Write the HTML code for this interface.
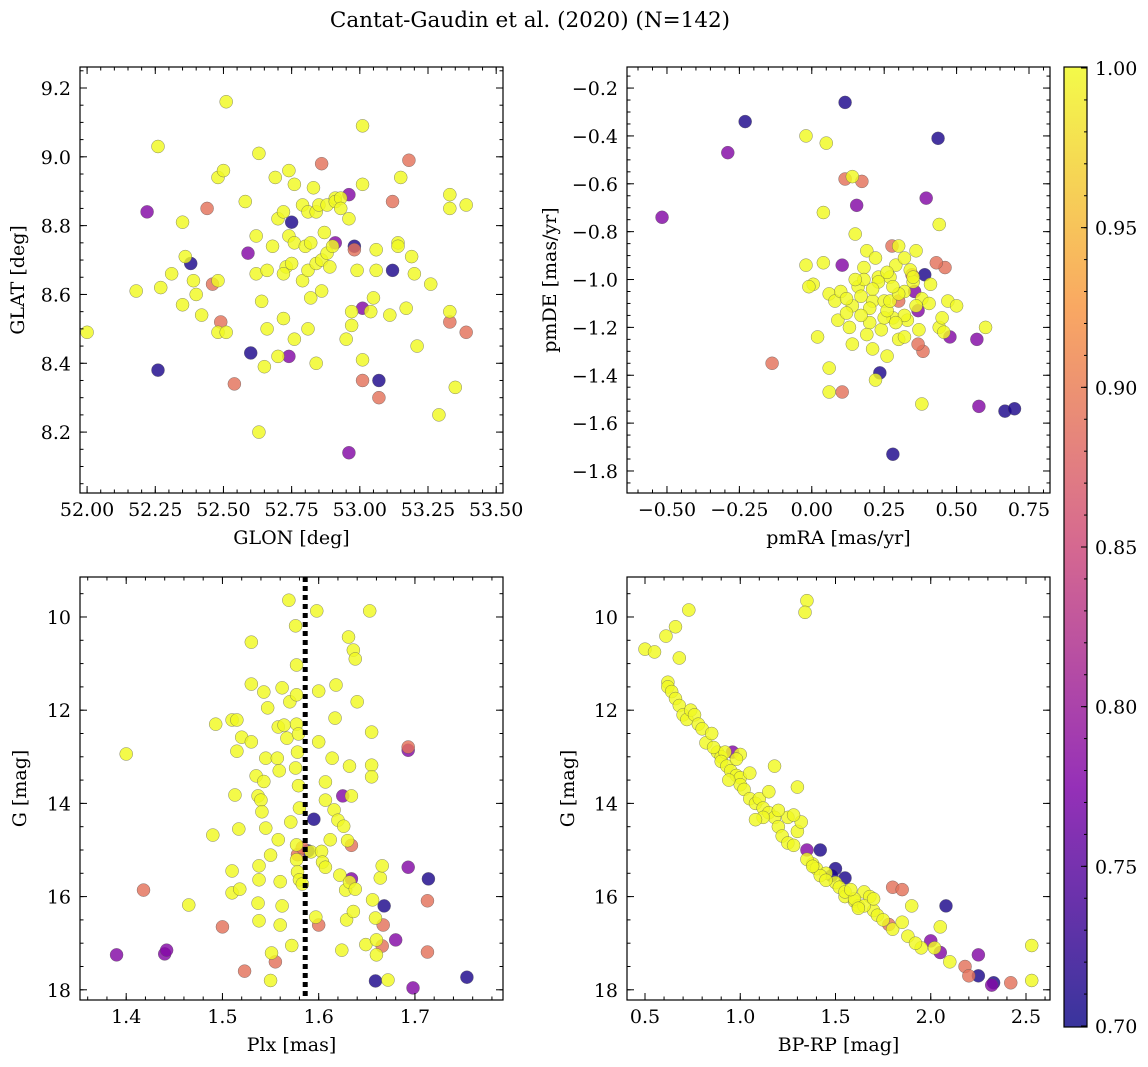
<!DOCTYPE html>
<html><head><meta charset="utf-8">
<style>
body{margin:0;background:#fff;}
svg{display:block;font-family:"DejaVu Serif","Liberation Serif",serif;}
</style></head>
<body>
<svg id="fig" width="1148" height="1067" viewBox="0 0 1148 1067" xmlns="http://www.w3.org/2000/svg">
<text x="530" y="27" font-size="21.5" text-anchor="middle">Cantat-Gaudin et al. (2020) (N=142)</text>
</svg>
<script>
// ---- Panel 1: GLON / GLAT ----
const p1x=[52.26,52.38,52.60,52.75,52.98,53.07,53.12, 52.22,52.59,52.74,52.91,52.96,52.96,53.01, 52.44,52.46,52.49,52.54,52.86,52.98,53.01,53.07,53.12,53.18,53.33,53.39,
52.0,52.26,52.18,52.27,52.31,52.35,52.36,52.35,52.39,52.40,52.42,52.48,52.50,52.51,52.48,52.48,52.51,52.58,52.62,52.62,52.63,52.64,52.63,52.65,52.66,52.66,52.68,52.70,52.69,52.70,52.72,52.72,52.73,52.74,52.74,52.76,52.76,52.75,52.76,52.79,52.79,52.80,52.81,52.81,52.81,52.82,52.83,52.84,52.82,52.84,52.85,52.84,52.86,52.86,52.87,52.88,52.88,52.89,52.91,52.90,52.91,52.93,52.93,52.95,52.96,52.97,52.97,52.99,53.01,53.01,53.01,53.04,53.05,53.06,53.06,53.11,53.14,53.14,53.15,53.17,53.19,53.20,53.21,53.26,53.29,53.33,53.33,53.33,53.35,53.39,52.72];
const p1y=[8.38,8.69,8.43,8.81,8.74,8.35,8.67, 8.84,8.72,8.42,8.75,8.89,8.14,8.56, 8.85,8.63,8.52,8.34,8.98,8.73,8.35,8.30,8.87,8.99,8.52,8.49,
8.49,9.03,8.61,8.62,8.66,8.81,8.71,8.57,8.64,8.60,8.54,8.94,8.96,9.16,8.64,8.49,8.49,8.87,8.77,8.66,9.01,8.58,8.20,8.39,8.50,8.67,8.74,8.82,8.94,8.42,8.84,8.53,8.68,8.96,8.77,8.47,8.92,8.69,8.75,8.64,8.86,8.74,8.84,8.50,8.67,8.75,8.91,8.69,8.59,8.84,8.86,8.40,8.70,8.61,8.78,8.72,8.86,8.68,8.88,8.74,8.87,8.88,8.85,8.47,8.82,8.55,8.51,8.67,9.09,8.92,8.41,8.55,8.59,8.67,8.73,8.54,8.75,8.74,8.94,8.56,8.71,8.66,8.45,8.63,8.25,8.89,8.85,8.55,8.33,8.86,8.66];
const p1c=[0.71,0.71,0.71,0.71,0.71,0.71,0.71, 0.78,0.78,0.78,0.78,0.78,0.78,0.78, 0.89,0.89,0.89,0.89,0.89,0.89,0.89,0.89,0.89,0.89,0.89,0.89];
// ---- Panel 2: pmRA / pmDE ----
const p2x=[-0.23,0.115,0.436,0.39,0.235,0.28,0.667,0.70, -0.517,-0.29,0.105,0.155,0.395,0.355,0.477,0.57,0.577,0.367, 0.115,0.173,-0.137,0.105,0.277,0.346,0.46,0.384,0.367,0.30,0.43,
-0.02,0.05,0.04,0.14,0.44,-0.02,0.005,-0.01,0.04,0.06,0.02,0.06,0.06,0.09,0.15,0.16,0.14,0.13,0.14,0.18,0.19,0.20,0.21,0.21,0.22,0.22,0.23,0.24,0.25,0.26,0.27,0.28,0.29,0.30,0.32,0.32,0.33,0.35,0.36,0.37,0.38,0.38,0.405,0.41,0.44,0.45,0.456,0.47,0.50,0.60,0.17,0.12,0.08,0.25,0.23,0.30,0.34,0.20,0.17,0.26,0.27,0.30,0.21,0.18,0.32,0.29,0.32,0.36,0.26,0.15,0.10,0.12,0.19,0.35,0.28];
const p2y=[-0.34,-0.26,-0.41,-0.98,-1.39,-1.73,-1.55,-1.54, -0.74,-0.47,-0.94,-0.69,-0.66,-1.05,-1.24,-1.25,-1.53,-1.13, -0.58,-0.59,-1.35,-1.47,-0.86,-0.98,-0.95,-1.30,-1.27,-1.09,-0.93,
-0.40,-0.43,-0.72,-0.57,-0.77,-0.94,-1.02,-1.03,-0.93,-1.06,-1.24,-1.37,-1.47,-1.17,-0.81,-1.03,-1.11,-1.20,-1.27,-0.95,-0.88,-1.18,-1.29,-1.09,-1.42,-0.91,-0.99,-1.21,-1.09,-1.32,-0.99,-1.16,-0.94,-1.25,-0.91,-1.05,-1.17,-1.01,-0.88,-1.21,-1.08,-1.52,-1.10,-1.02,-1.20,-1.16,-1.22,-1.09,-1.11,-1.20,-1.07,-1.14,-1.09,-1.16,-1.01,-0.86,-0.96,-1.12,-1.15,-1.13,-1.09,-1.06,-1.04,-1.00,-1.15,-1.18,-1.24,-1.11,-0.97,-1.00,-1.05,-1.08,-1.23,-0.99,-1.03];
const p2c=[0.71,0.71,0.71,0.71,0.71,0.71,0.71,0.71, 0.78,0.78,0.78,0.78,0.78,0.78,0.78,0.78,0.78,0.78, 0.89,0.89,0.89,0.89,0.89,0.89,0.89,0.89,0.89,0.89,0.89];
// ---- Panel 3: Plx / G ----
const p3x=[1.589,1.595,1.668,1.659,1.714,1.754, 1.39,1.44,1.442,1.634,1.625,1.693,1.698,1.68,1.693, 1.418,1.50,1.523,1.578,1.583,1.60,1.634,1.667,1.666,1.693,1.713,1.713,1.555,
1.40,1.465,1.49,1.493,1.51,1.515,1.513,1.515,1.51,1.51,1.518,1.517,1.52,1.53,1.53,1.53,1.535,1.537,1.538,1.538,1.537,1.538,1.54,1.541,1.543,1.543,1.545,1.545,1.547,1.551,1.55,1.558,1.557,1.559,1.558,1.56,1.56,1.562,1.562,1.564,1.567,1.569,1.57,1.571,1.576,1.577,1.577,1.577,1.579,1.576,1.577,1.577,1.578,1.58,1.583,1.597,1.592,1.598,1.60,1.60,1.603,1.604,1.607,1.607,1.607,1.612,1.618,1.617,1.614,1.616,1.62,1.622,1.626,1.63,1.628,1.629,1.624,1.632,1.634,1.631,1.636,1.638,1.64,1.632,1.636,1.638,1.649,1.653,1.655,1.655,1.655,1.656,1.659,1.66,1.66,1.664,1.666,1.672,1.579,1.58,1.578,1.55,1.572];
const p3y=[15.02,14.34,16.20,17.81,15.62,17.73, 17.25,17.23,17.15,15.62,13.84,12.86,17.96,16.93,15.37, 15.86,16.65,17.60,15.10,14.95,16.61,14.90,16.61,17.06,12.79,16.09,17.19,17.40,
12.94,16.18,14.68,12.30,12.21,12.21,13.82,12.88,15.45,15.92,15.84,14.55,12.58,10.54,11.44,12.68,13.41,13.84,15.34,15.64,16.14,16.52,13.93,14.18,13.53,11.61,13.03,14.53,11.95,17.21,15.11,12.36,13.03,13.30,14.78,15.68,16.61,16.20,11.52,12.32,12.60,9.64,11.82,14.40,10.19,11.03,11.67,12.30,12.51,13.24,14.89,15.21,15.47,15.64,15.73,16.44,15.04,9.87,11.59,12.68,15.03,15.26,15.37,13.54,13.93,14.78,11.46,12.17,13.03,14.14,14.36,15.54,14.49,14.80,15.86,16.50,17.15,15.69,13.84,10.43,10.71,10.90,11.82,13.20,16.32,15.84,17.03,9.87,12.47,13.18,13.43,16.07,16.46,16.93,17.25,15.60,15.34,17.79,13.62,14.10,12.90,17.80,17.05];
const p3c=[0.71,0.71,0.71,0.71,0.71,0.71, 0.78,0.78,0.78,0.78,0.78,0.78,0.78,0.78,0.78, 0.89,0.89,0.89,0.89,0.89,0.89,0.89,0.89,0.89,0.89,0.89,0.89,0.89];
const plxMean=1.586;
// ---- Panel 4: BP-RP / G ----
const p4x=[1.42,1.50,1.48,1.55,2.08,2.25,2.33, 0.96,1.35,2.00,2.05,2.25,2.32, 1.80,1.78,1.85,2.18,2.20,2.42,
0.5,0.55,0.61,0.62,0.66,0.73,0.68,0.62,0.64,0.66,0.68,0.70,0.72,0.74,0.76,0.78,0.80,0.82,0.85,0.88,0.90,0.92,0.90,0.93,0.95,0.98,1.00,1.00,1.02,1.05,1.08,1.10,1.12,1.15,1.18,1.20,1.22,1.25,1.28,1.30,1.32,1.25,1.28,1.18,1.30,1.35,1.34,1.38,1.40,1.45,1.50,1.52,1.55,1.60,1.62,1.65,1.68,1.70,1.72,1.75,1.80,1.85,1.88,1.90,1.95,2.02,2.05,2.10,2.53,2.53,1.00,0.98,1.05,1.12,1.15,1.20,1.35,1.42,1.45,1.55,1.60,1.65,0.86,0.94,1.08,1.38,1.58,1.62,1.92,1.70];
const p4y=[15.00,15.40,15.55,15.60,16.20,17.70,17.85, 12.90,15.00,16.95,17.20,17.25,17.90, 15.80,16.60,15.85,17.50,17.70,17.85,
10.69,10.75,10.41,11.40,10.21,9.85,10.88,11.50,11.60,11.75,11.90,12.10,12.20,12.00,12.10,12.30,12.40,12.70,12.50,12.90,13.00,12.90,13.10,13.20,13.30,13.40,13.45,13.60,13.70,13.90,14.00,13.90,14.10,14.20,14.30,14.50,14.70,14.85,14.90,14.60,14.40,14.30,14.25,13.20,13.65,9.65,9.90,15.30,15.40,15.50,15.70,15.80,16.00,16.10,16.20,15.90,16.00,16.30,16.40,16.50,16.70,16.55,16.85,16.20,17.10,17.10,16.65,17.40,17.05,17.80,12.95,13.05,13.35,14.30,13.75,14.15,15.20,15.55,15.65,15.90,16.05,16.20,12.80,13.50,14.35,15.35,15.85,16.25,17.00,16.05];
const p4c=[0.71,0.71,0.71,0.71,0.71,0.71,0.71, 0.78,0.78,0.78,0.78,0.78,0.78, 0.89,0.89,0.89,0.89,0.89,0.89];
// ---- Tick labels ----
const p1xt=[52.00,52.25,52.50,52.75,53.00,53.25,53.50];
const p1yt=[8.2,8.4,8.6,8.8,9.0,9.2];
const p2xt=[-0.50,-0.25,0.00,0.25,0.50,0.75];
const p2yt=[-1.8,-1.6,-1.4,-1.2,-1.0,-0.8,-0.6,-0.4,-0.2];
const p3xt=[1.4,1.5,1.6,1.7];
const gt=[10,12,14,16,18];
const p4xt=[0.5,1.0,1.5,2.0,2.5];
const cbt=[0.70,0.75,0.80,0.85,0.90,0.95,1.00];

const NS="http://www.w3.org/2000/svg";
const svg=document.getElementById('fig');
const FS=19;
function el(tag,attrs,parent){const e=document.createElementNS(NS,tag);for(const k in attrs)e.setAttribute(k,attrs[k]);(parent||svg).appendChild(e);return e;}
const stops=[[13,8,135],[126,3,168],[204,71,120],[248,149,64],[240,249,33]];
function plasma(v){let t=Math.max(0,Math.min(1,(v-0.7)/0.3))*4;let i=Math.min(3,Math.floor(t));let f=t-i;const a=stops[i],b=stops[i+1];return `rgb(${Math.round(a[0]+(b[0]-a[0])*f)},${Math.round(a[1]+(b[1]-a[1])*f)},${Math.round(a[2]+(b[2]-a[2])*f)})`;}
const mf=s=>s.replace('-','\u2212');

function panel(name,box,xr,yr,xt,yt,fmtx,fmty,xl,yl,xs,ys,cs,ylx,minorX,minorY){
  const [L,T,R,B]=box;
  const g=el('g',{});
  
  
  const sx=v=>L+(v-xr[0])/(xr[1]-xr[0])*(R-L);
  const sy=v=>T+(v-yr[0])/(yr[1]-yr[0])*(B-T);
  const pg=el('g',{},g);
  
  
  for(let i=0;i<xs.length;i++){
    const c=i<cs.length?cs[i]:1.0;
    const p=el('circle',{cx:sx(xs[i]),cy:sy(ys[i]),r:6.5,fill:plasma(c),'fill-opacity':0.82,stroke:'#555','stroke-width':0.5,'stroke-opacity':0.7},pg);
    
    
  }
  const fr=el('rect',{x:L,y:T,width:R-L,height:B-T,fill:'none',stroke:'#000','stroke-width':1.2},g);
  
  
  const lo=Math.min(xr[0],xr[1]),hi=Math.max(xr[0],xr[1]);
  for(let v=Math.ceil(lo/minorX)*minorX;v<=hi;v+=minorX){const x=sx(v);el('line',{x1:x,x2:x,y1:B,y2:B-3.5,stroke:'#000'},g);el('line',{x1:x,x2:x,y1:T,y2:T+3.5,stroke:'#000'},g);}
  const ylo=Math.min(yr[0],yr[1]),yhi=Math.max(yr[0],yr[1]);
  for(let v=Math.ceil(ylo/minorY)*minorY;v<=yhi;v+=minorY){const y=sy(v);el('line',{x1:L,x2:L+3.5,y1:y,y2:y,stroke:'#000'},g);el('line',{x1:R,x2:R-3.5,y1:y,y2:y,stroke:'#000'},g);}
  xt.forEach(v=>{const x=sx(v);el('line',{x1:x,x2:x,y1:B,y2:B-7,stroke:'#000'},g);el('line',{x1:x,x2:x,y1:T,y2:T+7,stroke:'#000'},g);
    const t=el('text',{x:x,y:B+23,'font-size':FS,'text-anchor':'middle'},g);t.textContent=mf(fmtx(v));
    
    });
  yt.forEach(v=>{const y=sy(v);el('line',{x1:L,x2:L+7,y1:y,y2:y,stroke:'#000'},g);el('line',{x1:R,x2:R-7,y1:y,y2:y,stroke:'#000'},g);
    const t=el('text',{x:L-9,y:y+7,'font-size':FS,'text-anchor':'end'},g);t.textContent=mf(fmty(v));
    
    });
  const xa=el('text',{x:(L+R)/2,y:B+51,'font-size':FS,'text-anchor':'middle'},g);xa.textContent=xl;
  
  
  const ya=el('text',{x:ylx,y:(T+B)/2,'font-size':FS,'text-anchor':'middle',transform:`rotate(-90 ${ylx} ${(T+B)/2})`},g);ya.textContent=yl;
  
  
  return {sx,sy,g};
}
const f2=v=>v.toFixed(2), f1=v=>v.toFixed(1), f0=v=>String(v);
panel('glon-glat-panel',[80,67,503,493],[51.974,53.525],[9.261,8.023],p1xt,p1yt,f2,f1,'GLON [deg]','GLAT [deg]',p1x,p1y,p1c,24,0.05,0.05);
panel('proper-motion-panel',[627,67,1050,493],[-0.638,0.8225],[-0.112,-1.892],p2xt,p2yt,f2,f1,'pmRA [mas/yr]','pmDE [mas/yr]',p2x,p2y,p2c,556,0.05,0.05);
const P3=panel('parallax-panel',[80,577,503,1000],[1.352,1.7915],[9.142,18.219],p3xt,gt,f1,f0,'Plx [mas]','G [mag]',p3x,p3y,p3c,26,0.02,0.5);
panel('cmd-panel',[627,577,1050,1000],[0.4055,2.626],[9.142,18.219],p4xt,gt,f1,f0,'BP-RP [mag]','G [mag]',p4x,p4y,p4c,574,0.1,0.5);
const ml=el('line',{x1:P3.sx(plxMean),x2:P3.sx(plxMean),y1:577,y2:1000,stroke:'#000','stroke-width':5,'stroke-dasharray':'5,4'});


const cb=el('g',{});


const defs=el('defs',{},cb);
const lg=el('linearGradient',{id:'cg',x1:0,y1:1,x2:0,y2:0},defs);
for(let i=0;i<=20;i++){const v=0.7+0.3*i/20;el('stop',{offset:i/20,'stop-color':plasma(v),'stop-opacity':0.82},lg);}
const cy=v=>1026-(v-0.7)/0.3*958;
el('rect',{x:1064,y:67,width:23,height:960,fill:'url(#cg)',stroke:'#000','stroke-width':1.2},cb);
for(let v=0.70;v<=1.0001;v+=0.01){el('line',{x1:1087,x2:1084,y1:cy(v),y2:cy(v),stroke:'#000'},cb);}
cbt.forEach(v=>{el('line',{x1:1087,x2:1081,y1:cy(v),y2:cy(v),stroke:'#000'},cb);
  const t=el('text',{x:1095,y:cy(v)+7,'font-size':FS},cb);t.textContent=v.toFixed(2);
  
  });
</script>
</body></html>
